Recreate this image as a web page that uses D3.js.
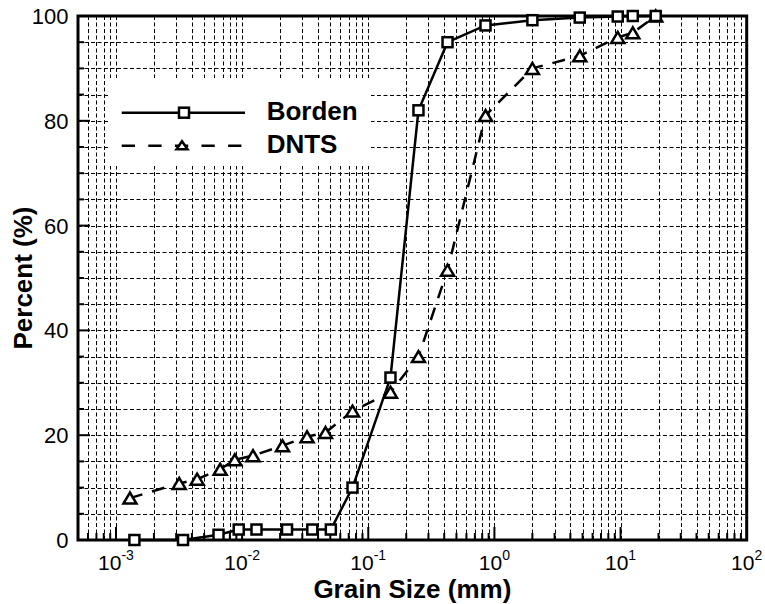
<!DOCTYPE html>
<html><head><meta charset="utf-8">
<script src="https://cdn.jsdelivr.net/npm/d3@7"></script>
<style>body{margin:0;background:#fff}svg{display:block}</style>
</head><body>
<script>
const seriesNames = ["Borden", "DNTS"];
const bordenSize = [0.0014, 0.0034, 0.0065, 0.0094, 0.013, 0.0227, 0.036, 0.0505, 0.075, 0.15, 0.25, 0.425, 0.85, 2.0, 4.75, 9.5, 12.5, 19.0];
const bordenPct  = [0, 0, 1, 2, 2, 2, 2, 2, 10, 31, 82, 95, 98.2, 99.2, 99.7, 99.9, 100, 100];
const dntsSize = [0.00129, 0.00317, 0.0044, 0.0067, 0.00875, 0.0122, 0.0209, 0.0327, 0.0458, 0.075, 0.15, 0.25, 0.425, 0.85, 2.0, 4.75, 9.5, 12.5, 19.0];
const dntsPct  = [8, 10.8, 11.6, 13.5, 15.3, 16.1, 18, 19.7, 20.5, 24.6, 28.2, 35, 51.5, 81, 90, 92.4, 95.9, 96.8, 100];
const xTickExps = [-3, -2, -1, 0, 1, 2];
const yTickLabels = [0, 20, 40, 60, 80, 100];
const xTitle = "Grain Size (mm)";
const yTitle = "Percent (%)";

const W = 765, H = 604;
const L = 78, R = 746.7, T = 16, B = 540;
const font = "Arial, 'Liberation Sans', sans-serif";

const svg = d3.select("body").append("svg").attr("width", W).attr("height", H);
const x = d3.scaleLog().domain([5e-4, 100]).range([L, R]);
const y = d3.scaleLinear().domain([0, 100]).range([B, T]);

// grid values
const xGrid = [];
for (let e = -4; e <= 1; e++) for (let m = 1; m <= 9; m++) {
  const v = m * Math.pow(10, e);
  if (v > 5e-4 * 1.0001 && v < 100 * 0.9999) xGrid.push(v);
}
const yGrid = d3.range(5, 100, 5);

const grid = svg.append("g").attr("stroke", "#000").attr("stroke-width", 1).attr("stroke-dasharray", "4,2.5");
grid.selectAll("line.v").data(xGrid).join("line").attr("class", "v")
  .attr("x1", d => Math.round(x(d)) + 0.5).attr("x2", d => Math.round(x(d)) + 0.5)
  .attr("y1", B).attr("y2", T);
grid.selectAll("line.h").data(yGrid).join("line").attr("class", "h")
  .attr("y1", d => Math.round(y(d)) + 0.5).attr("y2", d => Math.round(y(d)) + 0.5)
  .attr("x1", L).attr("x2", R);

// inward ticks
const tk = svg.append("g").attr("stroke", "#000").attr("stroke-width", 2);
xGrid.forEach(v => {
  const major = Math.abs(Math.log10(v) - Math.round(Math.log10(v))) < 1e-6;
  tk.append("line").attr("x1", x(v)).attr("x2", x(v)).attr("y1", B).attr("y2", B - (major ? 13 : 7));
});
d3.range(5, 100, 5).forEach(v => {
  const major = v % 20 === 0;
  tk.append("line").attr("x1", L).attr("x2", L + (major ? 12 : 6)).attr("y1", y(v)).attr("y2", y(v));
});

// frame
svg.append("rect").attr("x", L).attr("y", T).attr("width", R - L).attr("height", B - T)
  .attr("fill", "none").attr("stroke", "#000").attr("stroke-width", 3);

// x tick labels
const xl = svg.append("g").attr("font-family", font).attr("fill", "#000");
xTickExps.forEach(e => {
  const t = xl.append("text").attr("x", x(Math.pow(10, e))).attr("y", 569.5)
    .attr("text-anchor", "middle").attr("font-size", 21);
  t.append("tspan").text("10");
  t.append("tspan").attr("font-size", 14).attr("dy", -9.5).text(String(e));
});
// y tick labels
svg.append("g").selectAll("text").data(yTickLabels).join("text")
  .attr("x", 68.5).attr("y", d => y(d)).attr("dy", "0.36em")
  .attr("text-anchor", "end").attr("font-family", font).attr("font-size", 22)
  .text(d => d);

// titles
svg.append("text").attr("x", (L + R) / 2).attr("y", 598).attr("text-anchor", "middle")
  .attr("font-family", font).attr("font-weight", "bold").attr("font-size", 26).text(xTitle);
svg.append("text").attr("transform", `translate(32,${(T + B) / 2}) rotate(-90)`).attr("text-anchor", "middle")
  .attr("font-family", font).attr("font-weight", "bold").attr("font-size", 26).text(yTitle);

// markers
function square(g, cx, cy, s) {
  g.append("rect").attr("x", cx - s / 2).attr("y", cy - s / 2).attr("width", s).attr("height", s)
    .attr("fill", "#fff").attr("stroke", "#000").attr("stroke-width", 2.5);
}
function tri(g, cx, cy, w, h) {
  g.append("path").attr("d", `M${cx},${cy - h / 2}L${cx - w / 2},${cy + h / 2}L${cx + w / 2},${cy + h / 2}Z`)
    .attr("fill", "#fff").attr("stroke", "#000").attr("stroke-width", 2.5).attr("stroke-linejoin", "miter");
}

const borden = bordenSize.map((s, i) => [s, bordenPct[i]]);
const dnts = dntsSize.map((s, i) => [s, dntsPct[i]]);
const line = d3.line().x(d => x(d[0])).y(d => y(d[1]));

svg.append("path").datum(dnts).attr("d", line).attr("fill", "none").attr("stroke", "#000")
  .attr("stroke-width", 2.5).attr("stroke-dasharray", "13,10");
svg.append("path").datum(borden).attr("d", line).attr("fill", "none").attr("stroke", "#000")
  .attr("stroke-width", 2.5);

const mk = svg.append("g");
dnts.forEach(d => tri(mk, x(d[0]), y(d[1]), 13, 11));
borden.forEach(d => square(mk, x(d[0]), y(d[1]), 10));

// legend
const lg = svg.append("g");
lg.append("rect").attr("x", 110).attr("y", 78).attr("width", 261).attr("height", 88).attr("fill", "#fff");
lg.append("line").attr("x1", 121.7).attr("x2", 245).attr("y1", 112.7).attr("y2", 112.7)
  .attr("stroke", "#000").attr("stroke-width", 2.5);
square(lg, 184, 112.7, 10);
lg.append("line").attr("x1", 121.7).attr("x2", 245).attr("y1", 145.7).attr("y2", 145.7)
  .attr("stroke", "#000").attr("stroke-width", 2.5).attr("stroke-dasharray", "13.3,13.3");
tri(lg, 182, 145.2, 11, 8);
lg.selectAll("text").data(seriesNames).join("text")
  .attr("x", 266.7).attr("y", (d, i) => i === 0 ? 120 : 153)
  .attr("font-family", font).attr("font-weight", "bold").attr("font-size", 26).text(d => d);
</script>
</body></html>
